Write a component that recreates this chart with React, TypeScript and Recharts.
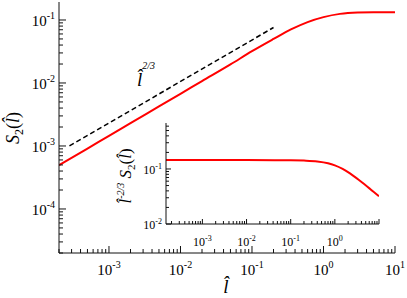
import { LineChart, Line, XAxis, YAxis } from 'recharts'

const SERIF = "'Liberation Serif', 'DejaVu Serif', 'Times New Roman', serif"
const AXIS = '#111'
const HAT_L = 'l\u0302'
const serif = { fontFamily: SERIF }

// main panel: S2 vs l (log-log)
const mainL = [2e-4, 5e-4, 1e-3, 2e-3, 5e-3, 0.01, 0.02, 0.05, 0.1, 0.2, 0.35, 0.6, 1, 1.7, 3, 5, 10]
const mainS2 = [4.95e-4, 9.1e-4, 1.45e-3, 2.3e-3, 4.24e-3, 6.73e-3, 1.07e-2, 1.97e-2, 0.032, 0.05, 0.0708, 0.0927, 0.111, 0.125, 0.1312, 0.1325, 0.1326]

// dashed l^(2/3) guide
const guideL = [2.8e-4, 0.2]
const guideS2 = [1.0e-3, 0.076]

// inset: l^(-2/3) S2 vs l
const insetL = [1.5e-4, 1e-3, 0.01, 0.1, 0.2, 0.4, 0.7, 1, 1.5, 2.2, 3.7, 6.3, 10]
const insetF = [0.145, 0.145, 0.145, 0.144, 0.142, 0.137, 0.127, 0.116, 0.1, 0.083, 0.061, 0.0433, 0.0318]

const mainXDecades = [1e-4, 1e-3, 1e-2, 1e-1, 1, 10]
const mainYDecades = [1e-5, 1e-4, 1e-3, 1e-2, 1e-1]
const insetXDecades = [1e-4, 1e-3, 1e-2, 1e-1, 1, 10]
const insetYDecades = [1e-2, 1e-1]

const mainXLabels = [1e-3, 1e-2, 1e-1, 1, 10]
const mainYLabels = [1e-4, 1e-3, 1e-2, 1e-1]
const insetXLabels = [1e-3, 1e-2, 1e-1, 1]
const insetYLabels = [1e-2, 1e-1]

const MAIN_X_DOMAIN = [2e-4, 10]
const MAIN_Y_DOMAIN = [2e-5, 0.193]
const INSET_X_DOMAIN = [1.5e-4, 10]
const INSET_Y_DOMAIN = [0.01, 0.685]

const logTicks = (decades: number[], [lo, hi]: number[]) => {
  const out: number[] = []
  decades.forEach((d) => {
    for (let m = 1; m < 10; m++) {
      const v = +(d * m).toPrecision(6)
      if (v >= lo * 0.9999 && v <= hi * 1.0001) out.push(v)
    }
  })
  return out
}

const zip = (xs: number[], ys: number[]) => xs.map((x, i) => ({ x, y: ys[i] }))
const mainRows = zip(mainL, mainS2)
const guideRows = zip(guideL, guideS2)
const insetRows = zip(insetL, insetF)

const isDecade = (v: number) => Math.abs(Math.log10(v) - Math.round(Math.log10(v))) < 1e-6

function LogTick(props: any) {
  const { x, y, payload, side, big, small, labels = [], size, sup, gap, raise, shift = 0 } = props
  const v = payload.value
  const major = isDecade(v)
  const len = major ? big : small
  const d: Record<string, number[]> = { bottom: [0, -len], top: [0, len], left: [len, 0], right: [-len, 0] }
  const exp = Math.round(Math.log10(v))
  const show = major && labels.some((l: number) => Math.abs(l - v) / v < 1e-6)
  return (
    <g>
      <line x1={x} y1={y} x2={x + d[side][0]} y2={y + d[side][1]} stroke={AXIS} strokeWidth={1} />
      {show && side === 'bottom' && (
        <text x={x} y={y + gap} textAnchor="middle" style={serif} fontSize={size} fill="#000">
          <tspan>10</tspan>
          <tspan dy={-raise} fontSize={sup}>{String(exp)}</tspan>
        </text>
      )}
      {show && side === 'left' && (
        <text x={x - gap} y={y + shift} textAnchor="end" style={serif} fontSize={size} fill="#000">
          <tspan>10</tspan>
          <tspan dy={-raise} fontSize={sup}>{String(exp)}</tspan>
        </text>
      )}
    </g>
  )
}

const axisCommon = {
  type: 'number' as const,
  scale: 'log' as const,
  allowDataOverflow: true,
  interval: 0 as const,
  tickLine: false,
  tickSize: 0,
  tickMargin: 0,
  axisLine: { stroke: AXIS, strokeWidth: 1 },
}

function Inset() {
  const xt = logTicks(insetXDecades, INSET_X_DOMAIN)
  const yt = logTicks(insetYDecades, INSET_Y_DOMAIN)
  const tk = { big: 5, small: 3, size: 12, sup: 8, raise: 5 }
  return (
    <LineChart width={288} height={140} margin={{ top: 8, right: 4, bottom: 0, left: 0 }}>
      <XAxis {...axisCommon} xAxisId="b" dataKey="x" domain={INSET_X_DOMAIN} ticks={xt} height={31}
        tick={<LogTick side="bottom" {...tk} gap={22} labels={insetXLabels} />} />
      <XAxis {...axisCommon} xAxisId="t" orientation="top" dataKey="x" domain={INSET_X_DOMAIN} ticks={xt} height={0}
        tick={<LogTick side="top" {...tk} />} />
      <YAxis {...axisCommon} yAxisId="l" domain={INSET_Y_DOMAIN} ticks={yt} width={71}
        tick={<LogTick side="left" {...tk} gap={4} shift={5} labels={insetYLabels} />} />
      <YAxis {...axisCommon} yAxisId="r" orientation="right" domain={INSET_Y_DOMAIN} ticks={yt} width={0}
        tick={<LogTick side="right" {...tk} />} />
      <Line xAxisId="b" yAxisId="l" data={insetRows} dataKey="y" type="monotone" stroke="#ff0000"
        strokeWidth={2} dot={false} isAnimationActive={false} />
      <text transform="rotate(-90 36 61)" x={36} y={61} textAnchor="middle" style={serif} fontSize={17} fill="#000">
        <tspan fontStyle="italic">{HAT_L}</tspan>
        <tspan dy={-7} fontSize={10} fontStyle="italic">-2/3</tspan>
        <tspan dy={7}> </tspan>
        <tspan fontStyle="italic">S</tspan>
        <tspan dy={4} fontSize={11}>2</tspan>
        <tspan dy={-4}>(</tspan>
        <tspan fontStyle="italic">{HAT_L}</tspan>
        <tspan>)</tspan>
      </text>
    </LineChart>
  )
}

export default function App() {
  const xt = logTicks(mainXDecades, MAIN_X_DOMAIN)
  const yt = logTicks(mainYDecades, MAIN_Y_DOMAIN)
  const tk = { big: 7, small: 4, size: 15, sup: 10, raise: 7 }
  return (
    <div style={{ position: 'absolute', left: 0, top: 0, width: 407, height: 298, background: '#fff' }}>
      <LineChart width={407} height={298} margin={{ top: 2, right: 12, bottom: 0, left: 0 }}>
        <XAxis {...axisCommon} xAxisId="b" dataKey="x" domain={MAIN_X_DOMAIN} ticks={xt} height={45}
          tick={<LogTick side="bottom" {...tk} gap={22} labels={mainXLabels} />} />
        <XAxis {...axisCommon} xAxisId="t" orientation="top" dataKey="x" domain={MAIN_X_DOMAIN} ticks={xt} height={0}
          tick={<LogTick side="top" {...tk} />} />
        <YAxis {...axisCommon} yAxisId="l" domain={MAIN_Y_DOMAIN} ticks={yt} width={59}
          tick={<LogTick side="left" {...tk} gap={4} shift={6} labels={mainYLabels} />} />
        <YAxis {...axisCommon} yAxisId="r" orientation="right" domain={MAIN_Y_DOMAIN} ticks={yt} width={0}
          tick={<LogTick side="right" {...tk} />} />
        <Line xAxisId="b" yAxisId="l" data={guideRows} dataKey="y" type="linear" stroke="#000"
          strokeWidth={1.5} strokeDasharray="5 3" dot={false} isAnimationActive={false} />
        <Line xAxisId="b" yAxisId="l" data={mainRows} dataKey="y" type="monotone" stroke="#ff0000"
          strokeWidth={2} dot={false} isAnimationActive={false} />
        {/* annotation */}
        <text x={137} y={86} style={serif} fontSize={19} fill="#000">
          <tspan fontStyle="italic">{HAT_L}</tspan>
          <tspan dy={-17} fontSize={10} fontStyle="italic">2/3</tspan>
        </text>
        {/* axis titles */}
        <text transform="rotate(-90 19 128)" x={19} y={128} textAnchor="middle" style={serif} fontSize={18} fill="#000">
          <tspan fontStyle="italic">S</tspan>
          <tspan dy={4} fontSize={12}>2</tspan>
          <tspan dy={-4}>(</tspan>
          <tspan fontStyle="italic">{HAT_L}</tspan>
          <tspan>)</tspan>
        </text>
        <text x={226} y={293} textAnchor="middle" style={serif} fontSize={19} fontStyle="italic" fill="#000">
          {HAT_L}
        </text>
      </LineChart>
      <div style={{ position: 'absolute', left: 95, top: 115 }}>
        <Inset />
      </div>
    </div>
  )
}
